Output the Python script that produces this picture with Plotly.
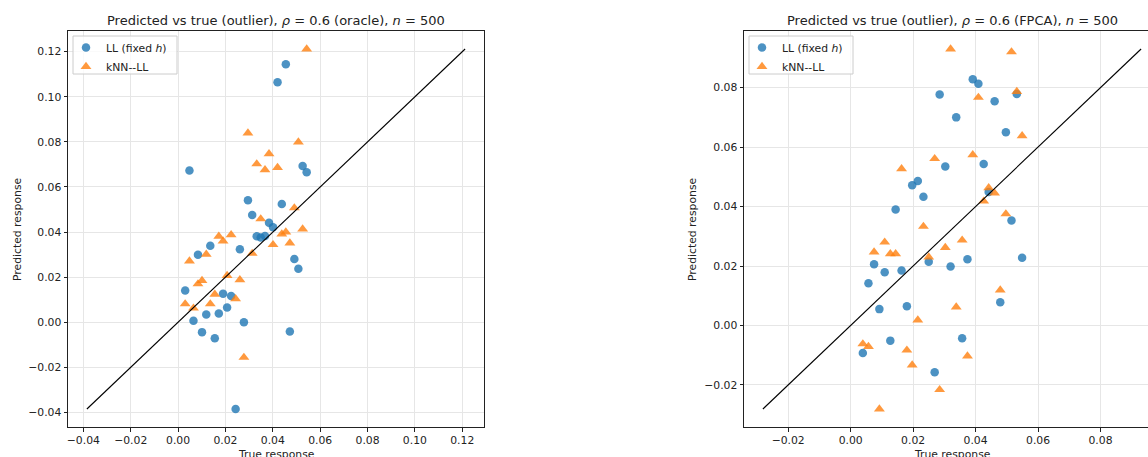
import plotly.graph_objects as go

W, H = 1148, 457

# ---------------- data (left: oracle) ----------------
true_oracle = [0.0455, 0.0420, 0.0048, 0.0526, 0.0543, 0.0295, 0.0438, 0.0313, 0.0384, 0.0401,
               0.0332, 0.0349, 0.0367, 0.0136, 0.0261, 0.0084, 0.0491, 0.0508, 0.0030, 0.0190,
               0.0224, 0.0207, 0.0119, 0.0172, 0.0065, 0.0278, 0.0101, 0.0155, 0.0472, 0.0243]
ll_oracle = [0.1144, 0.1065, 0.0673, 0.0693, 0.0665, 0.0541, 0.0524, 0.0476, 0.0441, 0.0421,
             0.0381, 0.0376, 0.0382, 0.0339, 0.0324, 0.0299, 0.0280, 0.0237, 0.0141, 0.0126,
             0.0116, 0.0065, 0.0034, 0.0039, 0.0006, 0.0000, -0.0044, -0.0071, -0.0041, -0.0385]
knn_oracle = [0.0400, 0.0686, 0.0271, 0.0413, 0.1212, 0.0839, 0.0391, 0.0305, 0.0747, 0.0344,
              0.0702, 0.0458, 0.0676, 0.0081, 0.0188, 0.0170, 0.0507, 0.0799, 0.0081, 0.0360,
              0.0388, 0.0207, 0.0301, 0.0381, 0.0062, -0.0156, 0.0185, 0.0124, 0.0351, 0.0104]

# ---------------- data (right: FPCA) ----------------
true_fpca = [0.0391, 0.0409, 0.0285, 0.0532, 0.0461, 0.0338, 0.0497, 0.0426, 0.0303, 0.0215,
             0.0197, 0.0442, 0.0233, 0.0144, 0.0515, 0.0250, 0.0374, 0.0549, 0.0075, 0.0320,
             0.0109, 0.0163, 0.0057, 0.0479, 0.0092, 0.0180, 0.0127, 0.0357, 0.0039, 0.0269]
ll_fpca = [0.0828, 0.0813, 0.0777, 0.0779, 0.0754, 0.0700, 0.0650, 0.0543, 0.0535, 0.0486,
           0.0472, 0.0449, 0.0433, 0.0390, 0.0353, 0.0214, 0.0223, 0.0228, 0.0206, 0.0198,
           0.0179, 0.0185, 0.0142, 0.0078, 0.0055, 0.0065, -0.0051, -0.0043, -0.0093, -0.0157]
knn_fpca = [0.0574, 0.0767, -0.0216, 0.0787, 0.0445, 0.0062, 0.0375, 0.0418, 0.0262, 0.0018,
            -0.0133, 0.0463, 0.0333, 0.0241, 0.0920, 0.0230, -0.0103, 0.0638, 0.0247, 0.0930,
            0.0280, 0.0527, -0.0071, 0.0119, -0.0281, -0.0083, 0.0241, 0.0287, -0.0062, 0.0561]

titles = ["Predicted vs true (outlier), <i>ρ</i> = 0.6 (oracle), <i>n</i> = 500",
          "Predicted vs true (outlier), <i>ρ</i> = 0.6 (FPCA), <i>n</i> = 500"]
ticks_left = [-0.04, -0.02, 0.00, 0.02, 0.04, 0.06, 0.08, 0.10, 0.12]
ticks_right = [-0.02, 0.00, 0.02, 0.04, 0.06, 0.08, 0.10]
series_names = ["LL (fixed <i>h</i>)", "kNN--LL"]

BLUE = "rgba(31,119,180,0.8)"
ORANGE = "rgba(255,127,14,0.8)"
FONT = "DejaVu Sans"

def px_x(p):
    return p / W

def px_y(p):
    return 1 - p / H

fig = go.Figure()

panels = [
    (true_oracle, ll_oracle, knn_oracle, "x", "y", "legend"),
    (true_fpca, ll_fpca, knn_fpca, "x2", "y2", "legend2"),
]
ranges = []
for tx, ll, kn, xa, ya, lg in panels:
    lo = min(tx + ll + kn)
    hi = max(tx + ll + kn)
    pad = 0.05 * (hi - lo)
    ranges.append((lo - pad, hi + pad))
    fig.add_trace(go.Scatter(x=tx, y=ll, mode="markers", name=series_names[0],
                             marker=dict(symbol="circle", size=8.5, color=BLUE, line=dict(width=0)),
                             xaxis=xa, yaxis=ya, legend=lg))
    fig.add_trace(go.Scatter(x=tx, y=kn, mode="markers", name=series_names[1],
                             marker=dict(symbol="triangle-up", size=9.5, color=ORANGE, line=dict(width=0)),
                             xaxis=xa, yaxis=ya, legend=lg))
    fig.add_trace(go.Scatter(x=[lo, hi], y=[lo, hi], mode="lines",
                             line=dict(color="black", width=1.1), showlegend=False,
                             xaxis=xa, yaxis=ya, hoverinfo="skip"))

# axis geometry (pixels)
L1, R1 = 68, 484
L2 = 744
TOP, BOT = 31, 427
dom_y = [px_y(BOT), px_y(TOP)]

# right panel: same pixel width as left (416 px) but clipped by the window
r2_lo, r2_hi = ranges[1]
r2_visible_hi = r2_lo + (r2_hi - r2_lo) * (W - L2) / (R1 - L1)

axis_common = dict(
    showgrid=True, gridcolor="#e6e6e6", gridwidth=1, zeroline=False,
    showline=True, linecolor="#222222", linewidth=1,
    ticks="outside", ticklen=3.5, tickwidth=1, tickcolor="#222222",
    tickfont=dict(family=FONT, size=10.8, color="#222222"),
    tickformat=".2f", automargin=False,
)

legend_common = dict(xanchor="left", yanchor="top",
                     bgcolor="rgba(0,0,0,0)", bordercolor="rgba(0,0,0,0)", borderwidth=0,
                     font=dict(family=FONT, size=10.8, color="#222222"),
                     tracegroupgap=0, itemwidth=30)

fig.update_layout(
    width=W, height=H,
    margin=dict(l=0, r=0, t=0, b=0),
    paper_bgcolor="white", plot_bgcolor="white",
    template="none",
    font=dict(family=FONT, color="#222222"),
    xaxis=dict(domain=[px_x(L1), px_x(R1)], range=list(ranges[0]), tickvals=ticks_left,
               mirror=True, anchor="y", **axis_common),
    yaxis=dict(domain=dom_y, range=list(ranges[0]), tickvals=ticks_left,
               mirror=True, anchor="x", **axis_common),
    xaxis2=dict(domain=[px_x(L2), 1.0], range=[r2_lo, r2_visible_hi], tickvals=ticks_right,
                mirror=True, anchor="y2", **axis_common),
    yaxis2=dict(domain=dom_y, range=list(ranges[1]), tickvals=ticks_right,
                mirror=False, anchor="x2", **axis_common),
    legend=dict(x=px_x(66), y=px_y(33), **legend_common),
    legend2=dict(x=px_x(742), y=px_y(33), **legend_common),
    showlegend=True,
)

# legend frames (matplotlib-style boxes behind the legend entries)
shapes = []
for lx in (73, 749):
    shapes.append(dict(type="rect", xref="paper", yref="paper",
                       x0=px_x(lx), x1=px_x(lx + 104), y0=px_y(74), y1=px_y(36),
                       fillcolor="rgba(255,255,255,0.8)", line=dict(color="#cccccc", width=1),
                       layer="above"))
fig.update_layout(shapes=shapes)

annots = []
centers = [(L1 + R1) / 2, L2 + (R1 - L1) / 2]
ylabel_x = [17, 692]
for i in range(2):
    annots.append(dict(text=titles[i], x=px_x(centers[i]), y=px_y(20), xref="paper", yref="paper",
                       xanchor="center", yanchor="middle", showarrow=False,
                       font=dict(family=FONT, size=13, color="#222222")))
    annots.append(dict(text="True response", x=px_x(centers[i]), y=px_y(446), xref="paper", yref="paper",
                       xanchor="center", yanchor="top", showarrow=False,
                       font=dict(family=FONT, size=10.8, color="#222222")))
    annots.append(dict(text="Predicted response", x=px_x(ylabel_x[i]), y=px_y((TOP + BOT) / 2),
                       xref="paper", yref="paper", xanchor="center", yanchor="middle",
                       textangle=-90, showarrow=False,
                       font=dict(family=FONT, size=10.8, color="#222222")))
fig.update_layout(annotations=annots)

fig.write_html("out.html")
